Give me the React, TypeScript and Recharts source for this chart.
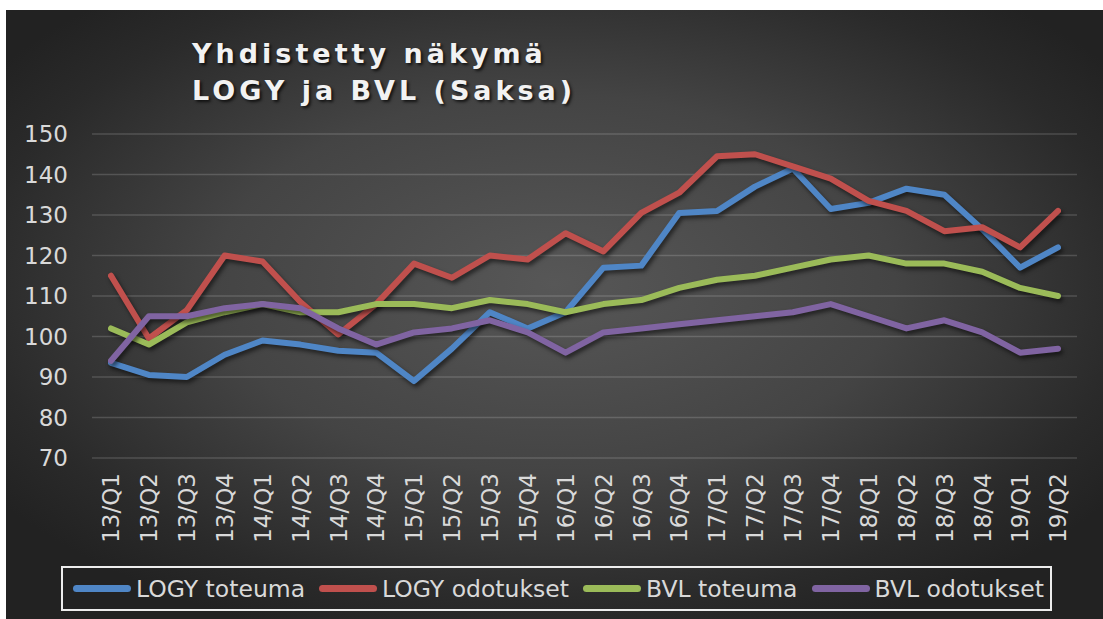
import React from "react";
import { LineChart, Line, XAxis, YAxis, CartesianGrid } from "recharts";

const quarters = [
  "13/Q1", "13/Q2", "13/Q3", "13/Q4",
  "14/Q1", "14/Q2", "14/Q3", "14/Q4",
  "15/Q1", "15/Q2", "15/Q3", "15/Q4",
  "16/Q1", "16/Q2", "16/Q3", "16/Q4",
  "17/Q1", "17/Q2", "17/Q3", "17/Q4",
  "18/Q1", "18/Q2", "18/Q3", "18/Q4",
  "19/Q1", "19/Q2",
];

const logyToteuma = [
  93.5, 90.5, 90, 95.5, 99, 98, 96.5, 96, 89, 97, 106, 102, 106,
  117, 117.5, 130.5, 131, 137, 141.5, 131.5, 133, 136.5, 135, 126.5, 117, 122,
];
const logyOdotukset = [
  115, 99.5, 106.5, 120, 118.5, 108.5, 100.5, 108, 118, 114.5, 120, 119, 125.5,
  121, 130.5, 135.5, 144.5, 145, 142, 139, 133.5, 131, 126, 127, 122, 131,
];
const bvlToteuma = [
  102, 98, 103.5, 106, 108, 106, 106, 108, 108, 107, 109, 108, 106,
  108, 109, 112, 114, 115, 117, 119, 120, 118, 118, 116, 112, 110,
];
const bvlOdotukset = [
  94, 105, 105, 107, 108, 107, 102, 98, 101, 102, 104, 101, 96,
  101, 102, 103, 104, 105, 106, 108, 105, 102, 104, 101, 96, 97,
];

const yTicks = [70, 80, 90, 100, 110, 120, 130, 140, 150];

const series = [
  { key: "logyToteuma", name: "LOGY toteuma", color: "#4f86c6", values: logyToteuma },
  { key: "logyOdotukset", name: "LOGY odotukset", color: "#c0504d", values: logyOdotukset },
  { key: "bvlToteuma", name: "BVL toteuma", color: "#9bbb59", values: bvlToteuma },
  { key: "bvlOdotukset", name: "BVL odotukset", color: "#8064a2", values: bvlOdotukset },
];

const data = quarters.map((q, i) => {
  const row: Record<string, string | number> = { q };
  series.forEach((s) => (row[s.key] = s.values[i]));
  return row;
});

const FONT = "'DejaVu Sans', Verdana, sans-serif";

function QuarterTick({ x, y, payload }: any) {
  return (
    <text
      x={x}
      y={y}
      transform={`rotate(-90, ${x}, ${y})`}
      textAnchor="end"
      dy="0.36em"
      fill="#d9d9d9"
      fontSize={23}
      fontFamily={FONT}
    >
      {payload.value}
    </text>
  );
}

export default function App() {
  return (
    <div
      style={{
        position: "absolute",
        left: 0,
        top: 0,
        width: 1103,
        height: 619,
        background: "#ffffff",
        overflow: "hidden",
      }}
    >
      <style>{`.recharts-line-curve{filter:drop-shadow(2px 3px 2px rgba(0,0,0,0.55));}`}</style>
      <div
        style={{
          position: "absolute",
          left: 6,
          top: 10,
          width: 1097,
          height: 609,
          background:
            "radial-gradient(ellipse 62% 62% at 50% 45%, #575757 0%, #444444 50%, #2a2a2a 85%, #222222 100%)",
        }}
      >
        <div
          style={{
            position: "absolute",
            left: 186,
            top: 25,
            fontFamily: FONT,
            fontWeight: "bold",
            fontSize: 27,
            lineHeight: "37px",
            letterSpacing: 4,
            color: "#f2f2f2",
            textShadow: "2px 2px 3px rgba(0,0,0,0.7)",
            whiteSpace: "nowrap",
          }}
        >
          Yhdistetty näkymä
          <br />
          LOGY ja BVL (Saksa)
        </div>

        <LineChart
          width={1097}
          height={609}
          data={data}
          margin={{ top: 124, right: 26, bottom: 61, left: 0 }}
        >
          <CartesianGrid vertical={false} stroke="rgba(255,255,255,0.16)" strokeWidth={1.5} />
          <XAxis
            dataKey="q"
            interval={0}
            height={100}
            padding={{ left: 19, right: 19 }}
            axisLine={false}
            tickLine={false}
            tickMargin={9}
            tick={<QuarterTick />}
          />
          <YAxis
            domain={[70, 150]}
            ticks={yTicks}
            width={86}
            axisLine={false}
            tickLine={false}
            tickMargin={18}
            tick={{ fill: "#d9d9d9", fontSize: 23, fontFamily: FONT }}
          />
          {series.map((s) => (
            <Line
              key={s.key}
              type="linear"
              dataKey={s.key}
              name={s.name}
              stroke={s.color}
              strokeWidth={6}
              strokeLinecap="round"
              strokeLinejoin="round"
              dot={false}
              activeDot={false}
              isAnimationActive={false}
            />
          ))}
        </LineChart>

        <div
          style={{
            position: "absolute",
            left: 55,
            top: 556,
            width: 991,
            height: 45,
            boxSizing: "border-box",
            border: "2px solid #ededed",
            display: "flex",
            alignItems: "center",
            gap: 14,
            paddingLeft: 10,
            fontFamily: FONT,
            fontSize: 23.5,
            color: "#d9d9d9",
            whiteSpace: "nowrap",
          }}
        >
          {series.map((s) => (
            <div key={s.key} style={{ display: "flex", alignItems: "center" }}>
              <span
                style={{
                  display: "inline-block",
                  width: 58,
                  height: 7,
                  borderRadius: 4,
                  background: s.color,
                  marginRight: 5,
                }}
              />
              <span>{s.name}</span>
            </div>
          ))}
        </div>
      </div>
    </div>
  );
}
